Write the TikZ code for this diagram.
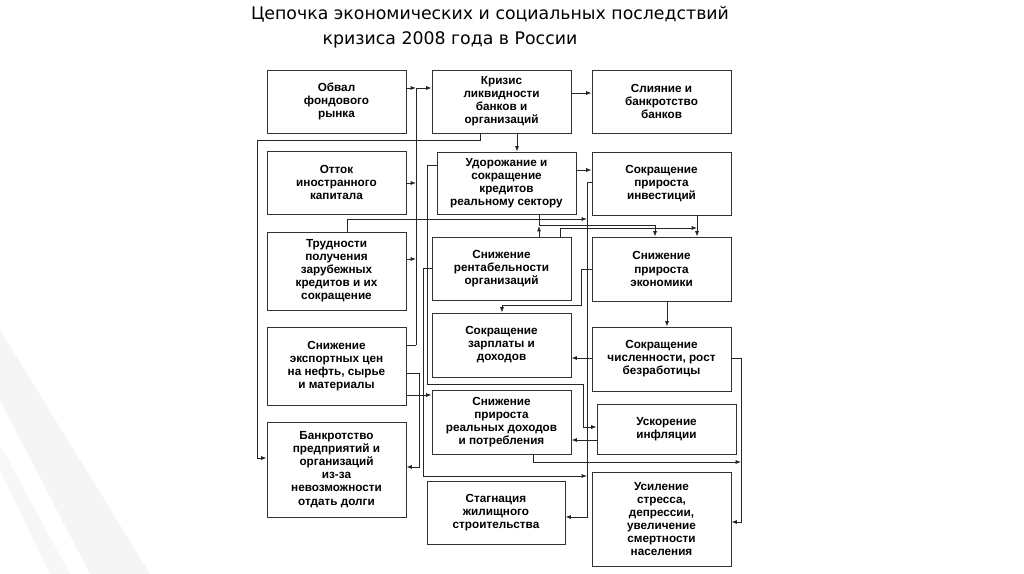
\documentclass[tikz,border=0pt]{standalone}
\usepackage{fontspec}
\setmainfont{Liberation Sans}
\newfontfamily\titlefont{DejaVu Sans}
\usetikzlibrary{arrows.meta}
\begin{document}
\begin{tikzpicture}[x=0.75pt,y=-0.75pt,
  box/.style={draw=black!80, line width=0.7pt, fill=white, align=center,
    font=\fontsize{8.8}{9.8}\selectfont\bfseries, inner sep=0pt},
  con/.style={draw=black!85, line width=0.6pt},
  arr/.style={con,-{Latex[length=4pt,width=3pt]}},
  ttl/.style={font=\titlefont\fontsize{13}{15}\selectfont, inner sep=0pt}]
\useasboundingbox (0,0) rectangle (1024,574);
\fill[white] (0,0) rectangle (1024,574);
\fill[black!4] (0,400) -- (90,574) -- (150,574) -- (0,330) -- cycle;
\fill[black!3] (0,470) -- (50,574) -- (70,574) -- (0,445) -- cycle;
\newcommand\bx[6]{\node[box,minimum width=#4*0.75pt,minimum height=#5*0.75pt] (#1) at (#2,#3) {#6};}
% title
\node[ttl] (t1) at (490,14) {Цепочка экономических и социальных последствий};
\node[ttl] (t2) at (450,40) {кризиса 2008 года в России};
% connectors (drawn first, boxes on top)
% left bus into M1
\bx{L1}{336.5}{101.5}{139}{63}{Обвал\\фондового\\рынка}
\bx{L2}{336.5}{182.5}{139}{63}{Отток\\иностранного\\капитала}
\bx{L3}{336.5}{271}{139}{78}{Трудности\\получения\\зарубежных\\кредитов и их\\сокращение}
\bx{L4}{336.5}{366}{139}{78}{Снижение\\экспортных цен\\на нефть, сырье\\и материалы}
\bx{L5}{336.5}{469.5}{139}{95}{Банкротство\\предприятий и\\организаций\\из-за\\невозможности\\отдать долги}
\bx{M1}{501.5}{101.5}{139}{63}{Кризис\\ликвидности\\банков и\\организаций}
\bx{M2}{506.5}{183}{139}{62}{Удорожание и\\сокращение\\кредитов\\реальному сектору}
\bx{M3}{501.5}{268.5}{139}{63}{Снижение\\рентабельности\\организаций}
\bx{M4}{501.5}{345}{139}{64}{Сокращение\\зарплаты и\\доходов}
\bx{M5}{501.5}{422}{139}{64}{Снижение\\прироста\\реальных доходов\\и потребления}
\bx{M6}{496}{512.5}{138}{63}{Стагнация\\жилищного\\строительства}
\bx{R1}{661.5}{101.5}{139}{63}{Слияние и\\банкротство\\банков}
\bx{R2}{661.5}{183.5}{139}{63}{Сокращение\\прироста\\инвестиций}
\bx{R3}{661.5}{269}{139}{64}{Снижение\\прироста\\экономики}
\bx{R4}{661.5}{359}{139}{64}{Сокращение\\численности, рост\\безработицы}
\bx{R5}{666.5}{429}{139}{50}{Ускорение\\инфляции}
\bx{R6}{661.5}{519}{139}{94}{Усиление\\стресса,\\депрессии,\\увеличение\\смертности\\населения}
% bus x=416 into M1
\coordinate (b1t) at (416,88);
\coordinate (b1b) at (416,345);
\draw[arr] (L1.east |- 0,88) -- (b1t);
\draw[arr] (b1t) -- (M1.west |- 0,88);
\draw[con] (b1t) -- (b1b);
\draw[arr] (L2.east |- 0,183) -- (416,183);
\draw[arr] (L3.east |- 0,259) -- (416,259);
\draw[con] (L4.east |- 0,345) -- (b1b);
% M1 -> R1, M1 -> M2, M2 -> R2
\draw[arr] (M1.east |- 0,93) -- (R1.west |- 0,93);
\draw[arr] (517,0 |- M1.south) -- (517,0 |- M2.north);
\draw[arr] (M2.east |- 0,170) -- (R2.west |- 0,170);
% M1 -> L5
\draw[arr] (480,0 |- M1.south) -- (480,140) -- (257,140) -- (257,458) -- (L5.west |- 0,458);
% M2 -> R5
\draw[arr] (M2.west |- 0,165) -- (427,165) -- (427,384) -- (583,384) -- (583,427) -- (R5.west |- 0,427);
% R2 -> M6 bus x=587
\draw[arr] (R2.west |- 0,182) -- (587,182) -- (587,517) -- (M6.east |- 0,517);
% L3 -> bus 587
\draw[arr] (347,0 |- L3.north) -- (347,219) -- (587,219);
% M3 -> M2 and to R3
\coordinate (j1) at (539,225);
\draw[con] (j1) -- (539,0 |- M2.south);
\draw[arr] (539,0 |- M3.north) -- (539,226);
\draw[arr] (j1) -- (655,225) -- (655,0 |- R3.north);
\draw[arr] (560,0 |- M3.north) -- (560,228) -- (697,228);
\draw[arr] (697,0 |- R2.south) -- (697,0 |- R3.north);
% R3 -> M4
\draw[arr] (R3.west |- 0,269) -- (581,269) -- (581,305) -- (502,305) -- (502,0 |- M4.north);
% R3 -> R4
\draw[arr] (667,0 |- R3.south) -- (667,0 |- R4.north);
% R4 -> M4
\draw[arr] (R4.west |- 0,358) -- (M4.east |- 0,358);
% R4 -> R6
\coordinate (b2) at (741,462);
\draw[arr] (R4.east |- 0,358) -- (741,358) -- (741,522) -- (R6.east |- 0,522);
\draw[arr] (533,0 |- M5.south) -- (533,462) -- (b2);
% R5 -> M5
\draw[arr] (R5.west |- 0,440) -- (M5.east |- 0,440);
% L4 -> M5
\draw[arr] (L4.east |- 0,395) -- (M5.west |- 0,395);
% L4 -> L5
\draw[arr] (L4.east |- 0,373) -- (419,373) -- (419,467) -- (L5.east |- 0,467);
% M3 -> bus 587
\draw[arr] (M3.west |- 0,268) -- (423,268) -- (423,476) -- (587,476);
\end{tikzpicture}
\end{document}
